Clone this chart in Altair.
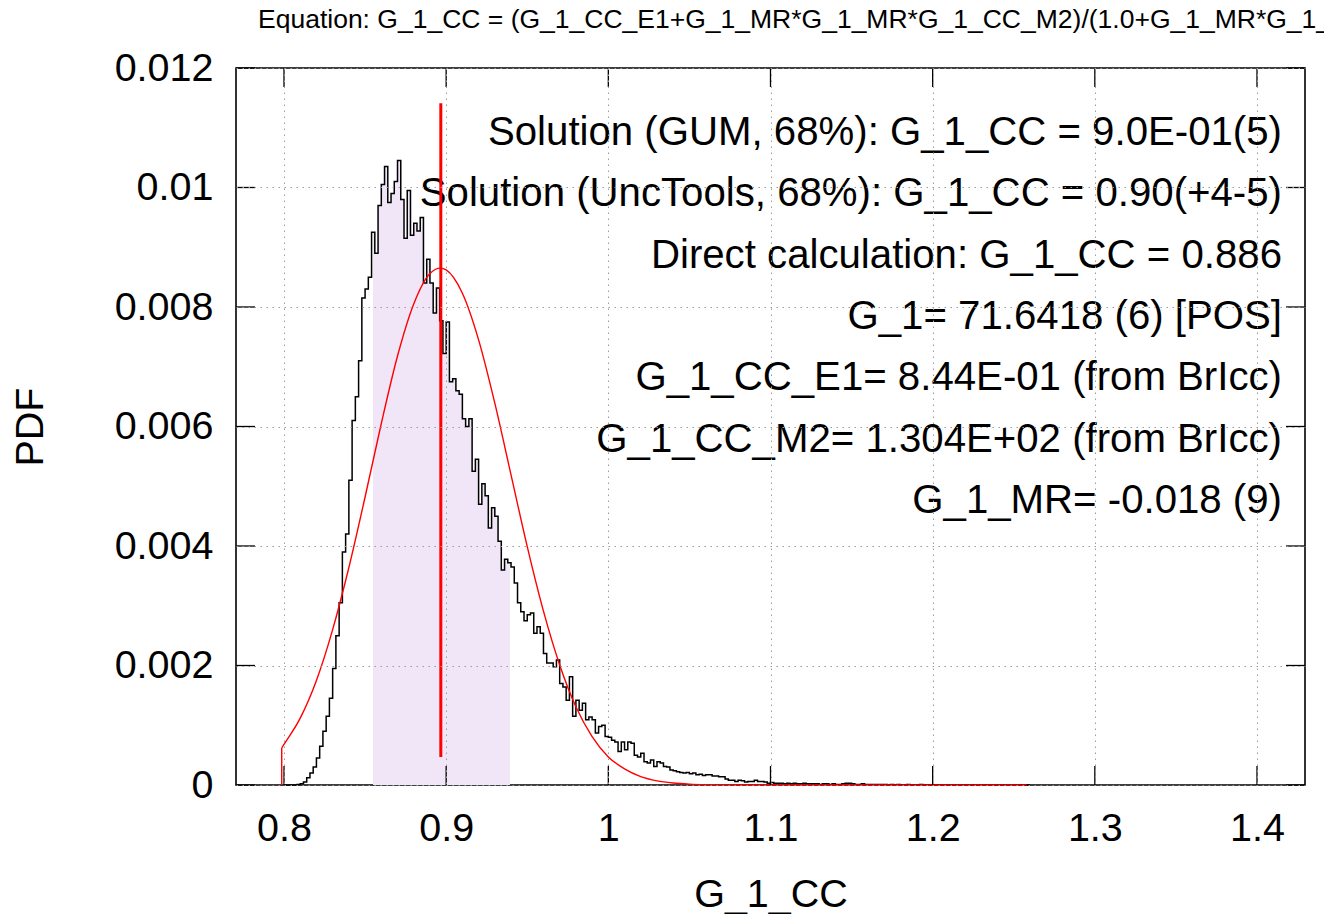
import altair as alt
import pandas as pd

# ---------------- data ----------------
hist_start = 0.800
hist_width = 0.002
# PDF of each 0.002-wide bin, in units of 1e-3
hist_vals = [
    0, 0, 0, 0, 0.01, 0.02, 0.05, 0.12, 0.2, 0.3,
    0.45, 0.65, 0.9, 1.15, 1.45, 1.95, 2.5, 3.05, 3.9, 4.2,
    5.1, 6.1, 6.5, 7.1, 8.15, 8.3,
    8.5, 9.25, 8.9, 9.7, 10.05, 10.35, 9.75, 9.9, 10.1, 10.45,
    9.8, 9.15, 9.95, 9.2, 9.4, 9.27, 9.5, 8.4, 8.8, 8.4,
    7.9, 8.32, 7.77, 7.22, 7.75, 6.75, 6.8, 6.6, 6.54, 6.13,
    6.0, 6.13, 5.25, 5.45, 4.7, 5.04, 4.84, 4.3, 4.64, 4.5,
    4.08, 3.6, 3.78, 3.72, 3.65, 3.38, 3.05, 2.9,
    2.75, 2.85, 2.88, 2.54, 2.65, 2.54, 2.2, 2.04, 2.04, 1.98,
    2.09, 1.7, 1.64, 1.42, 1.81, 1.15, 1.42, 1.25, 1.37, 1.09,
    1.14, 1.09, 0.87, 0.98, 1.0, 0.81, 0.8, 0.75, 0.72, 0.56,
    0.72, 0.59, 0.72, 0.7, 0.5, 0.47, 0.53, 0.39, 0.37, 0.42,
    0.31, 0.39, 0.37, 0.31, 0.3, 0.25, 0.24, 0.22, 0.21,
    0.2, 0.21, 0.19, 0.2, 0.17, 0.18, 0.16, 0.17, 0.17, 0.15,
    0.15, 0.14, 0.14, 0.1, 0.08, 0.08, 0.06, 0.08, 0.07, 0.05,
    0.06, 0.06, 0.08, 0.06, 0.06, 0.05, 0.03, 0.04, 0.03, 0.03,
    0.03, 0.02, 0.03, 0.02, 0.03, 0.02, 0.02, 0.03, 0.02, 0.02,
    0.02, 0.02, 0.01, 0.02, 0.02, 0.01, 0.02, 0.01,
    0.01, 0.02, 0.03, 0.03, 0.02, 0.01, 0.01, 0.02, 0.01, 0.01,
    0.01, 0.01, 0.01, 0.01, 0.01, 0.005, 0.01, 0.005, 0.01, 0.005,
    0.005, 0.01, 0.005, 0.005, 0.005, 0.01, 0.005, 0.005, 0.005, 0,
    0.005, 0.005, 0, 0.005, 0, 0.005, 0, 0, 0.005, 0,
    0, 0.005, 0, 0, 0, 0.005, 0,
    0, 0, 0, 0.005, 0, 0, 0, 0, 0, 0.005, 0, 0,
]

# GUM normal curve, read at points (PDF in units of 1e-3)
gauss_x = [0.7986, 0.80, 0.81, 0.82, 0.83, 0.84, 0.85, 0.86, 0.87, 0.88,
           0.89, 0.8965, 0.90, 0.91, 0.92, 0.93, 0.94, 0.95, 0.96, 0.97,
           0.98, 0.99, 1.00, 1.01, 1.02, 1.03, 1.04, 1.05, 1.06, 1.07,
           1.08, 1.10, 1.15, 1.20, 1.258]
gauss_y = [0.62, 0.68, 1.12, 1.75, 2.60, 3.64, 4.82, 6.05, 7.18, 8.05,
           8.56, 8.65, 8.62, 8.23, 7.45, 6.39, 5.19, 3.99, 2.91, 2.01,
           1.31, 0.81, 0.47, 0.27, 0.14, 0.07, 0.034, 0.015, 0.006, 0.0025,
           0.001, 0.0001, 0, 0, 0]

mean_x = [0.8967]
mean_y_low = [0.47]
mean_y_high = [11.41]

shade_lo = 0.8549
shade_hi = 0.9394

x_ticks = [0.8, 0.9, 1.0, 1.1, 1.2, 1.3, 1.4]
y_ticks = [0, 0.002, 0.004, 0.006, 0.008, 0.010, 0.012]

info_lines = [
    "Solution (GUM, 68%): G_1_CC = 9.0E-01(5)",
    "Solution (UncTools, 68%): G_1_CC = 0.90(+4-5)",
    "Direct calculation: G_1_CC = 0.886",
    "G_1= 71.6418 (6) [POS]",
    "G_1_CC_E1= 8.44E-01 (from BrIcc)",
    "G_1_CC_M2= 1.304E+02 (from BrIcc)",
    "G_1_MR= -0.018 (9)",
]
title_text = "Equation: G_1_CC = (G_1_CC_E1+G_1_MR*G_1_MR*G_1_CC_M2)/(1.0+G_1_MR*G_1_MR)"

# ---------------- tables ----------------
hx = [round(hist_start + i * hist_width, 4) for i in range(len(hist_vals))]
hy = [v * 1e-3 for v in hist_vals]
hist_df = pd.DataFrame({"x": hx + [round(hx[-1] + hist_width, 4)], "y": hy + [0.0]})

# shaded 68% interval: the histogram between shade_lo and shade_hi
inside = hist_df[(hist_df.x > shade_lo) & (hist_df.x < shade_hi)]
first_val = hist_df[hist_df.x <= shade_lo].y.iloc[-1]
last_val = inside.y.iloc[-1]
shade_df = pd.concat([
    pd.DataFrame({"x": [shade_lo], "y": [first_val]}),
    inside,
    pd.DataFrame({"x": [shade_hi], "y": [last_val]}),
], ignore_index=True)

gauss_df = pd.DataFrame({"x": gauss_x, "y": [v * 1e-3 for v in gauss_y]})
gauss_start_df = pd.DataFrame({"x": [gauss_x[0]], "y": [0.0], "y2": [gauss_y[0] * 1e-3]})
mean_df = pd.DataFrame({"x": mean_x, "y": [v * 1e-3 for v in mean_y_low],
                        "y2": [v * 1e-3 for v in mean_y_high]})
xt_df = pd.DataFrame({"x": x_ticks})
yt_df = pd.DataFrame({"y": y_ticks})

# ---------------- layout ----------------
W, H = 1069, 717
FONT = "Liberation Sans"
FS = 39.5
FS_TXT = 40.2
TICK = 19

xs = alt.Scale(domain=[0.7704, 1.4296], nice=False, zero=False)
ys = alt.Scale(domain=[0, 0.012], nice=False, zero=False)

x_axis = alt.Axis(values=x_ticks, format="~g", title="G_1_CC", grid=True,
                  gridColor="#9a9a9a", gridDash=[1.5, 4.5], gridWidth=1,
                  ticks=False, tickSize=0, domain=False,
                  labelFont=FONT, labelFontSize=FS, labelColor="black",
                  labelPadding=24, labelFlush=False, labelOverlap=False,
                  titleFont=FONT, titleFontSize=FS, titleFontWeight="normal",
                  titleColor="black", titleY=121, titleBaseline="alphabetic",
                  zindex=1)
y_axis = alt.Axis(values=y_ticks, format="~g", title="PDF", grid=True,
                  gridColor="#9a9a9a", gridDash=[1.5, 4.5], gridWidth=1,
                  ticks=False, tickSize=0, domain=False,
                  labelFont=FONT, labelFontSize=FS, labelColor="black",
                  labelPadding=23, labelFlush=False, labelOverlap=False,
                  titleFont=FONT, titleFontSize=FS, titleFontWeight="normal",
                  titleColor="black", titleX=-206, titleY=H / 2,
                  titleBaseline="middle", titleAlign="center", zindex=1)

X = alt.X("x:Q", scale=xs, axis=x_axis)
Y = alt.Y("y:Q", scale=ys, axis=y_axis)

shade = alt.Chart(shade_df).mark_area(interpolate="step-after", color="#f1e5f8").encode(
    x=X, y=Y)

hist = alt.Chart(hist_df).mark_line(interpolate="step-after", color="black",
                                    strokeWidth=1.5).encode(x=X, y=Y)

gauss = alt.Chart(gauss_df).mark_line(interpolate="monotone", color="#ff0000",
                                      strokeWidth=1.4).encode(x=X, y=Y)
gauss_start = alt.Chart(gauss_start_df).mark_rule(color="#ff0000", strokeWidth=1.4).encode(
    x=X, y=Y, y2="y2:Q")

mean_rule = alt.Chart(mean_df).mark_rule(color="#ff0000", strokeWidth=3).encode(
    x=X, y=Y, y2="y2:Q")

tick_style = dict(color="black", strokeWidth=1.3)
xt_bottom = alt.Chart(xt_df).mark_rule(**tick_style).encode(
    x=X, y=alt.value(H), y2=alt.value(H - TICK))
xt_top = alt.Chart(xt_df).mark_rule(**tick_style).encode(
    x=X, y=alt.value(0), y2=alt.value(TICK))
yt_left = alt.Chart(yt_df).mark_rule(**tick_style).encode(
    y=Y, x=alt.value(0), x2=alt.value(TICK))
yt_right = alt.Chart(yt_df).mark_rule(**tick_style).encode(
    y=Y, x=alt.value(W), x2=alt.value(W - TICK))

text_layers = []
for i, line in enumerate(info_lines):
    text_layers.append(
        alt.Chart(pd.DataFrame({"t": [line]})).mark_text(
            align="right", baseline="middle", font=FONT, fontSize=FS_TXT, color="black"
        ).encode(text="t:N", x=alt.value(1046), y=alt.value(65 + 61.3 * i))
    )

title_mark = alt.Chart(pd.DataFrame({"t": [title_text]})).mark_text(
    align="left", baseline="middle", font=FONT, fontSize=26.5, color="black"
).encode(text="t:N", x=alt.value(22), y=alt.value(-48))

chart = alt.layer(
    shade, hist, gauss, gauss_start, *text_layers, mean_rule,
    xt_bottom, xt_top, yt_left, yt_right, title_mark
).properties(
    width=W, height=H,
    padding={"left": 228, "top": 60, "right": 19, "bottom": 129},
    autosize=alt.AutoSizeParams(type="none"),
    background="white",
).configure_view(stroke="black", strokeWidth=1.6)

chart.save("out.html", embed_options={"renderer": "svg", "actions": False})
